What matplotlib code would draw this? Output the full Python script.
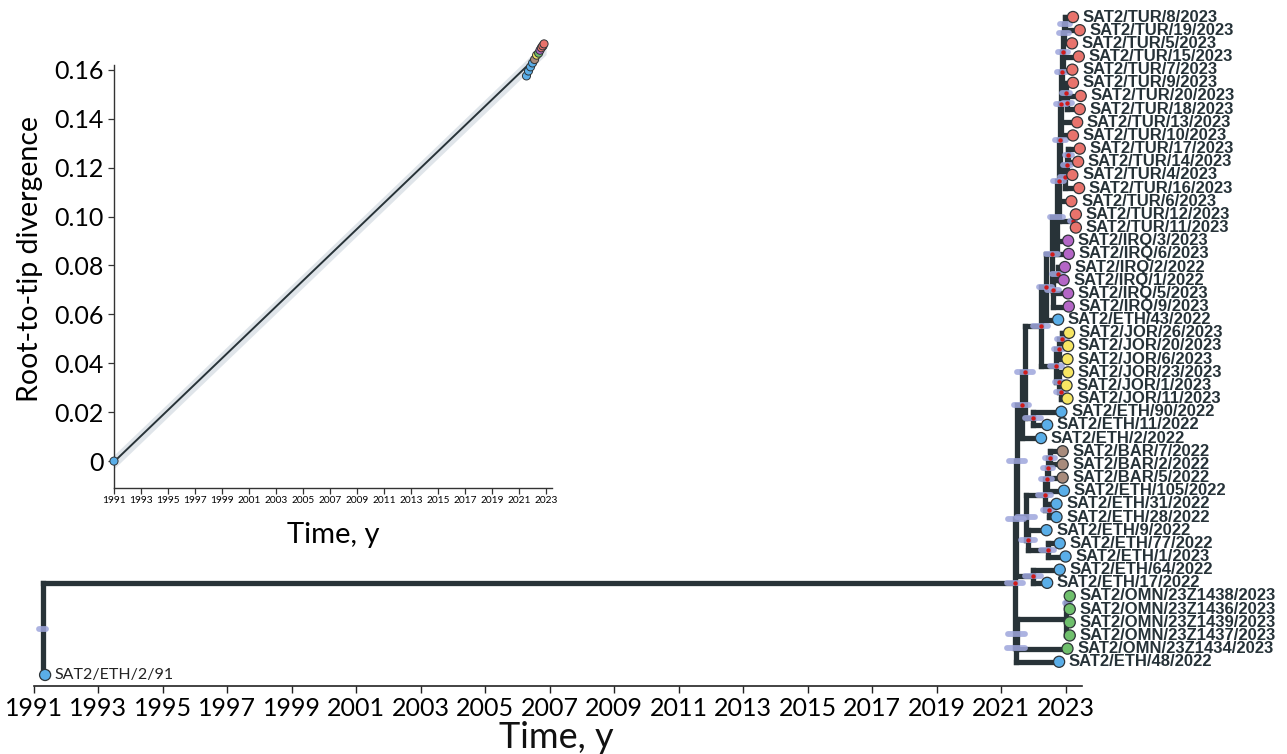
import matplotlib
matplotlib.use("Agg")
import matplotlib.pyplot as plt
import numpy as np
from matplotlib.collections import LineCollection

# ---------------- tree tips (top to bottom) ----------------
tip_ids = ["TUR8", "TUR19", "TUR5", "TUR15", "TUR7", "TUR9", "TUR20", "TUR18",
           "TUR13", "TUR10", "TUR17", "TUR14", "TUR4", "TUR16", "TUR6", "TUR12",
           "TUR11", "IRQ3", "IRQ6", "IRQ2", "IRQ1", "IRQ5", "IRQ9", "ETH43",
           "JOR26", "JOR20", "JOR6", "JOR23", "JOR1", "JOR11", "ETH90", "ETH11",
           "ETH2", "BAR7", "BAR2", "BAR5", "ETH105", "ETH31", "ETH28", "ETH9",
           "ETH77", "ETH1", "ETH64", "ETH17", "OMN1438", "OMN1436", "OMN1439",
           "OMN1437", "OMN1434", "ETH48", "ETH91"]
tip_labels = ["SAT2/TUR/8/2023", "SAT2/TUR/19/2023", "SAT2/TUR/5/2023", "SAT2/TUR/15/2023",
              "SAT2/TUR/7/2023", "SAT2/TUR/9/2023", "SAT2/TUR/20/2023", "SAT2/TUR/18/2023",
              "SAT2/TUR/13/2023", "SAT2/TUR/10/2023", "SAT2/TUR/17/2023", "SAT2/TUR/14/2023",
              "SAT2/TUR/4/2023", "SAT2/TUR/16/2023", "SAT2/TUR/6/2023", "SAT2/TUR/12/2023",
              "SAT2/TUR/11/2023", "SAT2/IRQ/3/2023", "SAT2/IRQ/6/2023", "SAT2/IRQ/2/2022",
              "SAT2/IRQ/1/2022", "SAT2/IRQ/5/2023", "SAT2/IRQ/9/2023", "SAT2/ETH/43/2022",
              "SAT2/JOR/26/2023", "SAT2/JOR/20/2023", "SAT2/JOR/6/2023", "SAT2/JOR/23/2023",
              "SAT2/JOR/1/2023", "SAT2/JOR/11/2023", "SAT2/ETH/90/2022", "SAT2/ETH/11/2022",
              "SAT2/ETH/2/2022", "SAT2/BAR/7/2022", "SAT2/BAR/2/2022", "SAT2/BAR/5/2022",
              "SAT2/ETH/105/2022", "SAT2/ETH/31/2022", "SAT2/ETH/28/2022", "SAT2/ETH/9/2022",
              "SAT2/ETH/77/2022", "SAT2/ETH/1/2023", "SAT2/ETH/64/2022", "SAT2/ETH/17/2022",
              "SAT2/OMN/23Z1438/2023", "SAT2/OMN/23Z1436/2023", "SAT2/OMN/23Z1439/2023",
              "SAT2/OMN/23Z1437/2023", "SAT2/OMN/23Z1434/2023", "SAT2/ETH/48/2022",
              "SAT2/ETH/2/91"]
tip_dates = [2023.22, 2023.43, 2023.19, 2023.40, 2023.20, 2023.22, 2023.46, 2023.43,
             2023.35, 2023.22, 2023.43, 2023.38, 2023.20, 2023.41, 2023.17, 2023.31,
             2023.31, 2023.07, 2023.09, 2022.97, 2022.93, 2023.07, 2023.09, 2022.76,
             2023.10, 2023.07, 2023.05, 2023.07, 2023.02, 2023.05, 2022.86, 2022.42,
             2022.23, 2022.90, 2022.90, 2022.90, 2022.94, 2022.71, 2022.71, 2022.40,
             2022.81, 2022.99, 2022.81, 2022.42, 2023.12, 2023.12, 2023.12,
             2023.12, 2023.05, 2022.79, 1991.36]

region_colors = {"TUR": "#e8736c", "IRQ": "#b466c6", "ETH": "#5aaee8",
                 "JOR": "#f7e663", "BAR": "#a88b7c", "OMN": "#6fbf6c"}

# ---------------- internal nodes (children before parents) ----------------
node_names = ["a1", "a2", "a3", "b1", "b2", "L1", "L2", "c", "d", "e", "L3", "t1211",
              "TURc", "T1", "i21", "I1", "W", "V", "j1", "j2", "j11", "j3", "JOR", "U",
              "E90", "X2", "X", "BAR2n", "BAR3", "B105", "E3128", "B0", "E77", "Q", "P",
              "Nd", "E64", "Nc", "o1", "OMNg", "Nb", "Na", "C0", "root"]
node_times = [2022.97, 2022.94, 2022.91, 2023.05, 2023.00, 2022.88, 2022.86, 2023.08,
              2023.03, 2022.97, 2022.83, 2023.21, 2022.78, 2022.72, 2022.75, 2022.60,
              2022.57, 2022.38, 2022.88, 2022.79, 2022.85, 2022.80, 2022.69, 2022.22,
              2021.97, 2021.73, 2021.63, 2022.51, 2022.44, 2022.41, 2022.47, 2022.35,
              2022.44, 2021.82, 2021.76, 2021.48, 2021.97, 2021.45, 2023.06, 2023.00,
              2021.47, 2021.46, 2021.42, 1991.29]
node_children = [["TUR8", "TUR19"], ["a1", "TUR5"], ["a2", "TUR15", "TUR7"],
                 ["TUR20", "TUR18"], ["TUR9", "b1"], ["a3", "b2"],
                 ["L1", "TUR13", "TUR10"], ["TUR17", "TUR14"], ["c", "TUR4"],
                 ["d", "TUR16"], ["L2", "e"], ["TUR12", "TUR11"],
                 ["L3", "TUR6", "t1211"], ["TURc", "IRQ3", "IRQ6"], ["IRQ2", "IRQ1"],
                 ["i21", "IRQ5", "IRQ9"], ["T1", "I1"], ["W", "ETH43"],
                 ["JOR26", "JOR20"], ["j1", "JOR6"], ["JOR1", "JOR11"], ["JOR23", "j11"],
                 ["j2", "j3"], ["V", "JOR"], ["ETH90", "ETH11"], ["U", "E90"],
                 ["X2", "ETH2"], ["BAR7", "BAR2"], ["BAR2n", "BAR5"], ["BAR3", "ETH105"],
                 ["ETH31", "ETH28"], ["B105", "E3128"], ["ETH77", "ETH1"], ["ETH9", "E77"],
                 ["B0", "Q"], ["X", "P"], ["ETH64", "ETH17"], ["Nd", "E64"],
                 ["OMN1438", "OMN1436"], ["o1", "OMN1439", "OMN1437"], ["OMNg", "OMN1434"],
                 ["Nb", "ETH48"], ["Nc", "Na"], ["C0", "ETH91"]]
node_support = [False, False, True, True, True, True, True, True, True, True, True, True,
                True, False, True, True, True, True, True, True, True, True, True, True,
                True, True, True, True, True, True, True, True, True, True, False,
                False, True, False, False, False, False, False, True, False]
node_hpd = [0.30, 0.30, 0.30, 0.25, 0.25, 0.30, 0.35, 0.20, 0.25, 0.30, 0.35, 0.15,
            0.35, 0.40, 0.35, 0.35, 0.35, 0.40, 0.30, 0.30, 0.30, 0.30, 0.35, 0.45,
            0.50, 0.50, 0.45, 0.30, 0.30, 0.35, 0.35, 0.40, 0.40, 0.45, 0.55,
            0.50, 0.50, 0.50, 0.15, 0.00, 0.55, 0.55, 0.50, 0.22]

# ---------------- root-to-tip regression points ----------------
rtt_years = [1991.0, 2021.55, 2021.70, 2021.85, 2022.00, 2022.15, 2022.30, 2022.45,
             2022.55, 2022.65, 2022.75, 2022.85]
rtt_div = [0.0, 0.1575, 0.1595, 0.1612, 0.1628, 0.1642, 0.1660, 0.1668,
           0.1680, 0.1690, 0.1698, 0.1706]
rtt_region = ["ETH", "ETH", "ETH", "ETH", "ETH", "BAR", "JOR", "OMN",
              "IRQ", "TUR", "TUR", "TUR"]

LINE = "#283338"
HPD = "#9ea6dc"
SUPPORT = "#d01a1a"
TEXT = "#263238"

# ---------------- layout of the tree ----------------
ypos = {t: i for i, t in enumerate(tip_ids)}
tpos = dict(zip(tip_ids, tip_dates))
for name, t, kids in zip(node_names, node_times, node_children):
    ypos[name] = (ypos[kids[0]] + ypos[kids[-1]]) / 2.0
    tpos[name] = t

segs = []
for name, kids in zip(node_names, node_children):
    t = tpos[name]
    ys = [ypos[k] for k in kids]
    segs.append([(t, min(ys)), (t, max(ys))])
    for k in kids:
        segs.append([(t, ypos[k]), (tpos[k], ypos[k])])

fig = plt.figure(figsize=(12.87, 7.54), dpi=100)
W_PX, H_PX = 1287.0, 754.0

ax = fig.add_axes([33.5 / W_PX, 68 / H_PX, 1048.5 / W_PX, 682 / H_PX])
ax.set_xlim(1991, 2023.5)
ax.set_ylim(50.84, -0.99)

ax.add_collection(LineCollection(segs, colors=LINE, linewidths=3.8,
                                 capstyle="projecting", zorder=2))

# node age intervals and supported nodes
for name, w, sup in zip(node_names, node_hpd, node_support):
    t, y = tpos[name], ypos[name]
    if w > 0:
        ax.plot([t - w / 2, t + w / 2], [y, y], color=HPD, lw=4.2, alpha=0.85,
                solid_capstyle="round", zorder=3)
    if sup:
        ax.scatter([t], [y], s=10, color=SUPPORT, zorder=4, linewidths=0)

# tips
tip_cols = [region_colors[i[:3]] for i in tip_ids]
ax.scatter(tip_dates, [ypos[t] for t in tip_ids], s=64, c=tip_cols,
           edgecolors="#2e3438", linewidths=0.9, zorder=5, clip_on=False)

for tid, lab, d in zip(tip_ids, tip_labels, tip_dates):
    if d < 2000:
        ax.annotate(lab, (d, ypos[tid]), xytext=(7, 0), textcoords="offset points",
                    va="center", ha="left", fontsize=11.5, family="Lato",
                    color="#222222", annotation_clip=False)
    else:
        ax.annotate(lab, (d, ypos[tid]), xytext=(7, 0), textcoords="offset points",
                    va="center", ha="left", fontsize=12.0, fontweight="bold",
                    family="Liberation Sans", color=TEXT, annotation_clip=False)

for s in ("left", "top", "right"):
    ax.spines[s].set_visible(False)
ax.spines["bottom"].set_linewidth(1.2)
ax.spines["bottom"].set_color("#222222")
years = list(range(1991, 2024, 2))
ax.set_xticks(years)
ax.set_xticklabels([str(y) for y in years], family="Lato", fontsize=18)
ax.tick_params(axis="x", direction="out", length=5, width=1.0, color="#222222", pad=3)
ax.set_yticks([])
ax.patch.set_alpha(0)
fig.text(556 / W_PX, 1 - 738 / H_PX, "Time, y", ha="center", va="center",
         fontsize=26, family="Lato", color="#111111")

# ---------------- inset: root-to-tip regression ----------------
top_px = 30
axi = fig.add_axes([114 / W_PX, (H_PX - 488) / H_PX, 438 / W_PX, (488 - top_px) / H_PX])
axi.set_xlim(1991, 2023.44)
ylo = -0.011
yhi = (461 - top_px) / 48.9 * 0.02
axi.set_ylim(ylo, yhi)
axi.patch.set_alpha(0)

coef = np.polyfit(rtt_years, rtt_div, 1)
xl = np.array([1991.0, 2023.0])
yl = np.polyval(coef, xl)
axi.fill_between(xl, yl - 0.0028, yl + 0.0028, color="#dde3e8", alpha=0.9,
                 linewidth=0, zorder=1)
axi.plot(xl, yl, color=LINE, lw=1.4, zorder=2)
axi.scatter(rtt_years, rtt_div, s=34, c=[region_colors[r] for r in rtt_region],
            edgecolors="#2e3438", linewidths=0.7, zorder=3, clip_on=False)

for s in ("top", "right"):
    axi.spines[s].set_visible(False)
axi.spines["left"].set_bounds(ylo, 0.1618)
for s in ("left", "bottom"):
    axi.spines[s].set_linewidth(1.0)
    axi.spines[s].set_color("#333333")
yt = [0.0, 0.02, 0.04, 0.06, 0.08, 0.10, 0.12, 0.14, 0.16]
axi.set_yticks(yt)
axi.set_yticklabels(["0"] + ["%.2f" % v for v in yt[1:]], family="Lato", fontsize=18)
axi.set_xticks(years)
axi.set_xticklabels([str(y) for y in years], family="Lato", fontsize=7.3)
axi.tick_params(axis="both", direction="out", length=4, width=0.9, color="#333333")
axi.tick_params(axis="x", pad=2)
axi.set_ylabel("Root-to-tip divergence", family="Lato", fontsize=20.5, labelpad=8)
axi.set_xlabel("Time, y", family="Lato", fontsize=21, labelpad=12)

fig.savefig("out.png", dpi=100)
